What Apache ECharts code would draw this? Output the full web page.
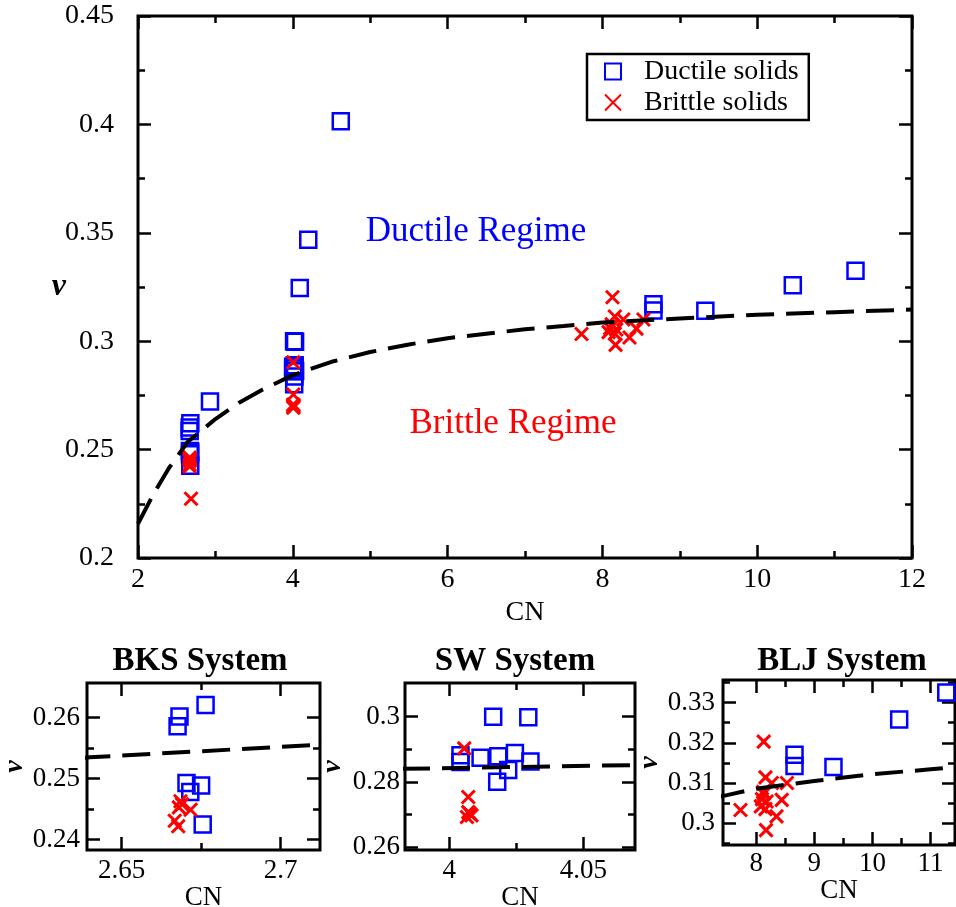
<!DOCTYPE html>
<html>
<head>
<meta charset="utf-8">
<script src="https://cdn.jsdelivr.net/npm/echarts@6/dist/echarts.min.js"></script>
<style>html,body{margin:0;padding:0;background:#fff}#c{width:956px;height:907px}</style>
</head>
<body>
<div id="c"></div>
<script>
// ---------------- data ----------------
const bksDuctileCN = [2.6764, 2.6682, 2.6676, 2.6704, 2.6750, 2.6716, 2.6755];
const bksDuctileNu = [0.2621, 0.2602, 0.2586, 0.2493, 0.2489, 0.2478, 0.2425];
const bksBrittleCN = [2.6685, 2.6680, 2.6717, 2.6667, 2.6678, 2.6690];
const bksBrittleNu = [0.2463, 0.2453, 0.2449, 0.2431, 0.2422, 0.2458];

const swDuctileCN = [4.0164, 4.0295, 4.0042, 4.0042, 4.0117, 4.0183, 4.0245, 4.0303, 4.0220, 4.0179];
const swDuctileNu = [0.3000, 0.2998, 0.2882, 0.2861, 0.2874, 0.2879, 0.2889, 0.2863, 0.2837, 0.2801];
const swBrittleCN = [4.0056, 4.0071, 4.0077, 4.0071, 4.0083, 4.0066];
const swBrittleNu = [0.2903, 0.2754, 0.2703, 0.2708, 0.2698, 0.2693];

const bljDuctileCN = [8.66, 8.66, 9.33, 10.46, 11.27];
const bljDuctileNu = [0.3170, 0.3142, 0.3140, 0.3258, 0.3325];
const bljBrittleCN = [8.13, 7.73, 8.17, 8.35, 8.44, 8.53, 8.16, 8.27, 8.13, 8.10, 8.18, 8.08, 8.16, 8.12];
const bljBrittleNu = [0.3203, 0.3033, 0.2983, 0.3017, 0.3058, 0.3100, 0.3114, 0.3100, 0.3073, 0.3060, 0.3054, 0.3042, 0.3035, 0.3078];

const otherDuctileCN = [2.93, 4.62, 4.20, 4.09];
const otherDuctileNu = [0.2722, 0.4015, 0.3468, 0.3245];
const otherBrittleCN = [2.685];
const otherBrittleNu = [0.2273];

// dashed fit curve
const fitCN = [2.0, 2.2, 2.4, 2.64, 2.72, 3.0, 3.3, 3.6, 3.98, 4.07, 4.5, 5.0, 5.5, 6.0, 7.0, 7.5, 8.0, 9.0, 10.0, 11.0, 12.0];
const fitNu = [0.2158, 0.2295, 0.2415, 0.2535, 0.2558, 0.2641, 0.2715, 0.2775, 0.2840, 0.2852, 0.2905, 0.2950, 0.2985, 0.3014, 0.3055, 0.3070, 0.3086, 0.3105, 0.3122, 0.3134, 0.3146];

// tick values
const mainXMajor = [2, 4, 6, 8, 10, 12];
const mainXMinor = [3, 5, 7, 9, 11];
const mainYMajor = [0.2, 0.25, 0.3, 0.35, 0.4, 0.45];
const mainYMinor = [0.225, 0.275, 0.325, 0.375, 0.425];
const bksXMajor = [2.65, 2.7];
const bksXMinor = [2.675];
const bksYMajor = [0.24, 0.25, 0.26];
const bksYMinor = [0.245, 0.255];
const swXMajor = [4, 4.05];
const swXMinor = [4.025];
const swYMajor = [0.26, 0.28, 0.3];
const swYMinor = [0.27, 0.29];
const bljXMajor = [8, 9, 10, 11];
const bljXMinor = [8.5, 9.5, 10.5];
const bljYMajor = [0.3, 0.31, 0.32, 0.33];
const bljYMinor = [0.295, 0.305, 0.315, 0.325, 0.335];

// ---------------- helpers ----------------
const FONT = '"Liberation Serif", "Times New Roman", serif';
const zip = (a, b) => a.map((v, i) => [v, b[i]]);

const xAxes = [], yAxes = [], grids = [], series = [];

function addPanel(grid, xr, yr) {
  const gi = grids.length;
  grids.push(Object.assign({show: true, borderColor: '#000', borderWidth: 3, backgroundColor: 'transparent', containLabel: false, outerBoundsMode: 'none'}, grid));
  const xi = xAxes.length, yi = yAxes.length;
  function mk(pos, r, vals, len, main) {
    const o = {
      type: 'value', gridIndex: gi, position: pos, min: r.min, max: r.max,
      axisLine: {show: false}, splitLine: {show: false},
      axisTick: {show: true, inside: true, length: len, customValues: vals, lineStyle: {color: '#000', width: 2.5}},
      axisLabel: {show: main, customValues: vals, margin: r.margin, color: '#000', fontFamily: FONT, fontSize: r.fontSize}
    };
    if (main && r.name) {
      o.name = r.name; o.nameLocation = 'middle'; o.nameGap = r.nameGap; o.nameRotate = r.nameRotate || 0;
      if (r.noMove) o.nameMoveOverlap = false;
      o.nameTextStyle = Object.assign({color: '#000', fontFamily: FONT, fontSize: r.nameSize}, r.nameStyle || {});
    }
    return o;
  }
  xAxes.push(mk('bottom', xr, xr.major, 13, true));
  xAxes.push(mk('bottom', xr, xr.minor, 7, false));
  xAxes.push(mk('top', xr, xr.major, 13, false));
  xAxes.push(mk('top', xr, xr.minor, 7, false));
  yAxes.push(mk('left', yr, yr.major, 13, true));
  yAxes.push(mk('left', yr, yr.minor, 7, false));
  yAxes.push(mk('right', yr, yr.major, 13, false));
  yAxes.push(mk('right', yr, yr.minor, 7, false));
  return {xi, yi};
}

const squareStyle = {symbol: 'rect', symbolSize: 16, itemStyle: {color: 'rgba(0,0,0,0)', borderColor: '#0000ff', borderWidth: 2.5, opacity: 1}};
const crossStyle = {symbol: 'path://M0,0L10,10M10,0L0,10', symbolSize: 13, itemStyle: {color: 'rgba(0,0,0,0)', borderColor: '#ff0000', borderWidth: 3, opacity: 1}};

function addSeries(ax, ductile, brittle) {
  series.push(Object.assign({type: 'scatter', name: 'Ductile solids', xAxisIndex: ax.xi, yAxisIndex: ax.yi, data: ductile, clip: true, silent: true, z: 3}, JSON.parse(JSON.stringify(squareStyle))));
  series.push(Object.assign({type: 'scatter', name: 'Brittle solids', xAxisIndex: ax.xi, yAxisIndex: ax.yi, data: brittle, clip: true, silent: true, z: 4}, JSON.parse(JSON.stringify(crossStyle))));
  series.push({type: 'line', name: 'fit', xAxisIndex: ax.xi, yAxisIndex: ax.yi, data: zip(fitCN, fitNu), showSymbol: false, symbol: 'none', smooth: false, clip: true, silent: true, z: 5,
    lineStyle: {color: '#000', width: 4, type: [28, 12]}});
}

// main panel
const mainAx = addPanel({left: 138, top: 16, width: 774, height: 542},
  {min: 2, max: 12, major: mainXMajor, minor: mainXMinor, margin: 8, fontSize: 28, name: 'CN', nameGap: 34, nameSize: 28},
  {min: 0.2, max: 0.45, major: mainYMajor, minor: mainYMinor, margin: 24, fontSize: 28, name: 'ν', nameGap: 72, noMove: true, nameSize: 32, nameStyle: {fontStyle: 'italic', fontWeight: 'bold'}});
addSeries(mainAx,
  zip(bksDuctileCN.concat(swDuctileCN, bljDuctileCN, otherDuctileCN), bksDuctileNu.concat(swDuctileNu, bljDuctileNu, otherDuctileNu)),
  zip(bksBrittleCN.concat(swBrittleCN, bljBrittleCN, otherBrittleCN), bksBrittleNu.concat(swBrittleNu, bljBrittleNu, otherBrittleNu)));

// BKS
const bksAx = addPanel({left: 87, top: 683, width: 233, height: 167},
  {min: 2.6391, max: 2.7124, major: bksXMajor, minor: bksXMinor, margin: 7, fontSize: 27, name: 'CN', nameGap: 34, nameSize: 27},
  {min: 0.2383, max: 0.2657, major: bksYMajor, minor: bksYMinor, margin: 7, fontSize: 27, name: 'ν', nameGap: 55, nameRotate: 90, nameSize: 28, nameStyle: {fontStyle: 'italic', fontWeight: 'bold'}});
addSeries(bksAx, zip(bksDuctileCN, bksDuctileNu), zip(bksBrittleCN, bksBrittleNu));

// SW
const swAx = addPanel({left: 405, top: 683, width: 230, height: 167},
  {min: 3.9835, max: 4.0693, major: swXMajor, minor: swXMinor, margin: 7, fontSize: 27, name: 'CN', nameGap: 34, nameSize: 27},
  {min: 0.2592, max: 0.3103, major: swYMajor, minor: swYMinor, margin: 5, fontSize: 27, name: 'ν', nameGap: 58, nameRotate: 90, nameSize: 28, nameStyle: {fontStyle: 'italic', fontWeight: 'bold'}});
addSeries(swAx, zip(swDuctileCN, swDuctileNu), zip(swBrittleCN, swBrittleNu));

// BLJ
const bljAx = addPanel({left: 723, top: 680, width: 232, height: 165},
  {min: 7.43, max: 11.42, major: bljXMajor, minor: bljXMinor, margin: 5, fontSize: 27, name: 'CN', nameGap: 30, nameSize: 27},
  {min: 0.2946, max: 0.3356, major: bljYMajor, minor: bljYMinor, margin: 8, fontSize: 27, name: 'ν', nameGap: 55, nameRotate: 90, nameSize: 28, nameStyle: {fontStyle: 'italic', fontWeight: 'bold'}});
addSeries(bljAx, zip(bljDuctileCN, bljDuctileNu), zip(bljBrittleCN, bljBrittleNu));

const chart = echarts.init(document.getElementById('c'), null, {renderer: 'canvas'});
chart.setOption({
  animation: false,
  backgroundColor: '#fff',
  textStyle: {fontFamily: FONT},
  grid: grids,
  xAxis: xAxes,
  yAxis: yAxes,
  legend: {
    data: ['Ductile solids', 'Brittle solids'],
    orient: 'vertical', left: 587, top: 54,
    padding: [3, 10, 3, 17], itemGap: 2, itemWidth: 16, itemHeight: 16,
    borderColor: '#000', borderWidth: 2.5, backgroundColor: '#fff',
    selectedMode: false,
    textStyle: {color: '#000', fontFamily: FONT, fontSize: 28, padding: [0, 0, 0, 18], lineHeight: 29}
  },
  graphic: [
    {type: 'text', x: 476, y: 232, style: {text: 'Ductile Regime', fill: '#0000ff', font: '35px ' + FONT, textAlign: 'center', textVerticalAlign: 'middle'}},
    {type: 'text', x: 513, y: 424, style: {text: 'Brittle Regime', fill: '#ff0000', font: '35px ' + FONT, textAlign: 'center', textVerticalAlign: 'middle'}},
    {type: 'text', x: 200, y: 661, style: {text: 'BKS System', fill: '#000', font: 'bold 33px ' + FONT, textAlign: 'center', textVerticalAlign: 'middle'}},
    {type: 'text', x: 515, y: 661, style: {text: 'SW System', fill: '#000', font: 'bold 33px ' + FONT, textAlign: 'center', textVerticalAlign: 'middle'}},
    {type: 'text', x: 842, y: 661, style: {text: 'BLJ System', fill: '#000', font: 'bold 33px ' + FONT, textAlign: 'center', textVerticalAlign: 'middle'}}
  ],
  series: series
});
</script>
</body>
</html>
